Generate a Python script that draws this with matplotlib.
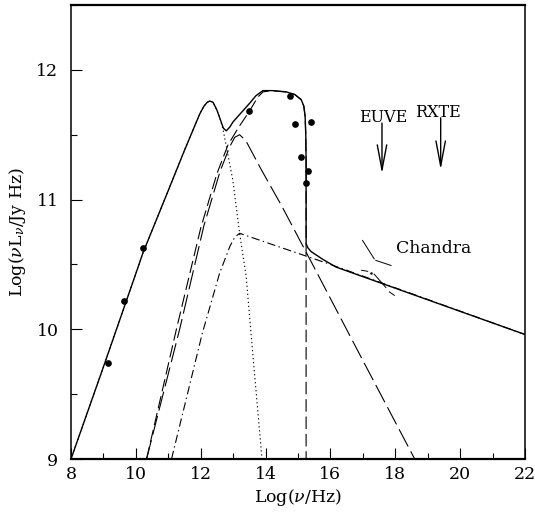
import matplotlib
matplotlib.use("Agg")
import matplotlib.pyplot as plt
from matplotlib.ticker import MultipleLocator

plt.rcParams['font.family'] = ['DejaVu Serif']
plt.rcParams['mathtext.fontset'] = 'dejavuserif'
plt.rcParams['lines.scale_dashes'] = False

# total model (solid)
total_x = [8.0, 9.0, 10.0, 10.22, 11.0, 11.5, 11.97, 12.1, 12.2, 12.28, 12.38, 12.5, 12.6, 12.7, 12.79,
           12.9, 13.0, 13.25, 13.5, 13.7, 13.92, 14.2, 14.64, 14.9, 15.1, 15.18, 15.22, 15.24, 15.25,
           15.25, 15.3, 15.4, 15.76, 16.17, 22.0]
total_y = [9.0, 9.71, 10.43, 10.59, 11.07, 11.38, 11.66, 11.72, 11.75, 11.76, 11.75, 11.69, 11.62, 11.55, 11.53,
           11.56, 11.60, 11.67, 11.74, 11.80, 11.84, 11.84, 11.83, 11.81, 11.77, 11.72, 11.64, 11.5, 11.3,
           10.66, 10.63, 10.60, 10.54, 10.48, 9.96]

# dotted component (first bump)
dot_x = [8.0, 9.0, 10.0, 10.22, 11.0, 11.5, 11.97, 12.1, 12.2, 12.28, 12.38, 12.5, 12.6, 12.69,
         12.99, 13.2, 13.4, 13.61, 13.89]
dot_y = [9.0, 9.71, 10.43, 10.59, 11.07, 11.38, 11.66, 11.72, 11.75, 11.76, 11.75, 11.69, 11.62, 11.54,
         11.15, 10.74, 10.41, 9.80, 9.0]

# long-dashed component (peak ~13.2)
compA_x = [10.33, 11.35, 12.1, 12.6, 12.9, 13.05, 13.2, 13.4, 13.87, 14.5, 15.45, 17.02, 18.6]
compA_y = [9.0, 10.0, 10.8, 11.22, 11.41, 11.48, 11.50, 11.45, 11.23, 10.95, 10.50, 9.75, 9.0]

# dashed component (plateau with cutoff)
compB_x = [10.33, 11.25, 12.0, 12.5, 12.84, 13.15, 13.5, 13.76, 13.92, 14.2, 14.64, 14.9, 15.1, 15.18,
           15.22, 15.24, 15.25, 15.25]
compB_y = [9.0, 10.0, 10.78, 11.2, 11.42, 11.55, 11.68, 11.79, 11.83, 11.84, 11.83, 11.81, 11.77, 11.72,
           11.64, 11.5, 11.3, 9.0]

# dash-dot component
compC_x = [11.1, 12.05, 12.58, 12.9, 13.05, 13.2, 16.0, 22.0]
compC_y = [9.0, 9.97, 10.43, 10.64, 10.71, 10.74, 10.50, 9.96]

# data points
obs_x = [9.14, 9.63, 10.22, 13.48, 14.76, 14.91, 15.08, 15.24, 15.32, 15.39]
obs_y = [9.74, 10.22, 10.63, 11.68, 11.80, 11.58, 11.33, 11.13, 11.22, 11.60]

# Chandra bowtie pieces
bow_x = [[16.99, 17.35], [17.40, 17.87], [16.96, 17.15], [17.35, 17.71], [17.82, 17.97]]
bow_y = [[10.685, 10.543], [10.531, 10.492], [10.455, 10.447], [10.425, 10.322], [10.288, 10.262]]
bow_dot = [17.26, 10.437]

# upper limits
lim_names = ['EUVE', 'RXTE']
lim_x = [17.59, 19.40]
lim_top = [11.59, 11.63]
lim_bot = [11.20, 11.23]
lim_text_x = [17.62, 19.31]

fig = plt.figure(figsize=(5.35, 5.15), dpi=100)
ax = fig.add_axes([0.1327, 0.1087, 0.8486, 0.8816])

ax.plot(dot_x, dot_y, color='black', lw=0.8, linestyle=(0, (0.9, 2.0)))
ax.plot(compA_x, compA_y, color='black', lw=0.8, linestyle=(0, (14, 4)))
ax.plot(compB_x, compB_y, color='black', lw=0.8, linestyle=(0, (9, 3.5)))
ax.plot(compC_x, compC_y, color='black', lw=0.8, linestyle=(0, (6, 2.5, 1, 2.5)))
ax.plot(total_x, total_y, color='black', lw=1.0)
ax.plot(obs_x, obs_y, 'o', color='black', ms=3.8)

for bx, by in zip(bow_x, bow_y):
    ax.plot(bx, by, color='black', lw=0.7)
ax.plot([bow_dot[0]], [bow_dot[1]], 'o', color='black', ms=0.8)

for name, x, yt, yb, tx in zip(lim_names, lim_x, lim_top, lim_bot, lim_text_x):
    ax.annotate('', xy=(x, yb), xytext=(x, yt),
                arrowprops=dict(arrowstyle='->,head_length=0.9,head_width=0.17',
                                lw=1.0, color='black', mutation_scale=20,
                                shrinkA=0, shrinkB=0))
    ax.text(tx, yt + 0.005, name, ha='center', va='baseline', fontsize=11.5)

ax.text(18.02, 10.59, 'Chandra', ha='left', va='baseline', fontsize=12.4)

ax.set_xlim(8, 22)
ax.set_ylim(9, 12.5)
ax.xaxis.set_major_locator(MultipleLocator(2))
ax.xaxis.set_minor_locator(MultipleLocator(1))
ax.yaxis.set_major_locator(MultipleLocator(1))
ax.yaxis.set_minor_locator(MultipleLocator(0.5))
ax.tick_params(which='both', direction='in', top=False, right=False, labelsize=12.5)
ax.tick_params(which='major', length=8, width=0.8, pad=5)
ax.tick_params(which='minor', length=4, width=0.8)
ax.tick_params(axis='y', which='major', pad=9)
for s in ['top', 'bottom']:
    ax.spines[s].set_linewidth(1.6)
for s in ['left', 'right']:
    ax.spines[s].set_linewidth(1.1)

ax.set_xlabel('Log($\\nu$/Hz)', fontsize=12.5, labelpad=3)
ax.set_ylabel('Log($\\nu$L$_\\nu$/Jy Hz)', fontsize=12.5, labelpad=6)

fig.savefig('out.png', dpi=100)
